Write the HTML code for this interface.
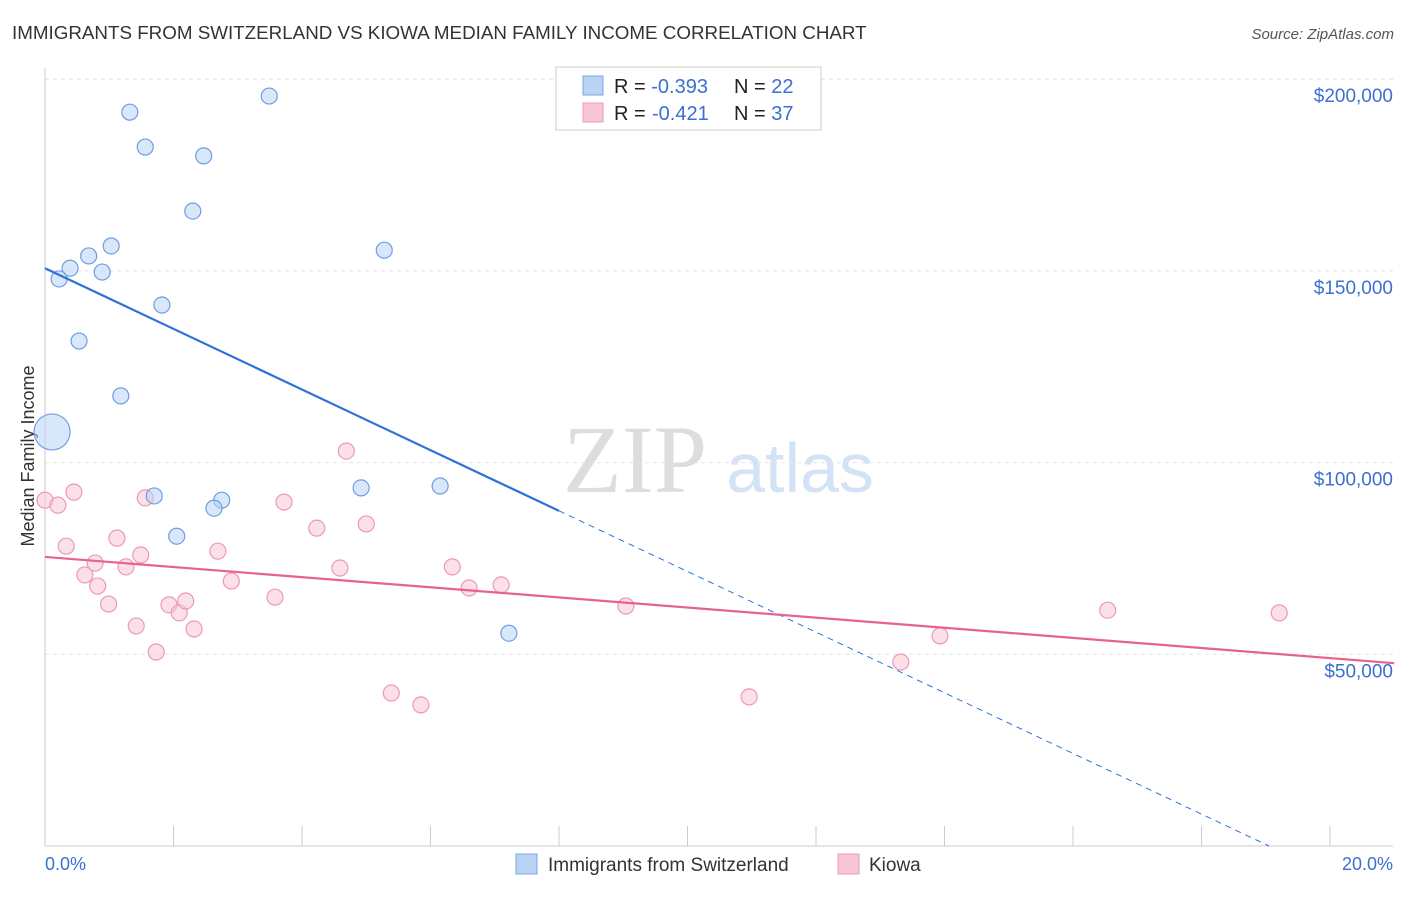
<!DOCTYPE html>
<html><head><meta charset="utf-8"><style>
body{margin:0;background:#fff;font-family:"Liberation Sans",sans-serif}
</style></head><body>
<svg id="c" width="1406" height="892" xmlns="http://www.w3.org/2000/svg" font-family="Liberation Sans, sans-serif">
<text x="12" y="39" font-size="18.8" fill="#333">IMMIGRANTS FROM SWITZERLAND VS KIOWA MEDIAN FAMILY INCOME CORRELATION CHART</text>
<text x="1394" y="39" font-size="15" fill="#555" font-style="italic" text-anchor="end">Source: ZipAtlas.com</text>
<text x="0" y="0" transform="translate(34,456) rotate(-90)" font-size="18" fill="#333" text-anchor="middle">Median Family Income</text>
<text x="635" y="492" font-size="96" fill="#ddd" font-family="Liberation Serif, serif" text-anchor="middle">ZIP</text>
<text x="800" y="492" font-size="70" fill="#d4e2f5" text-anchor="middle">atlas</text>
<g id="grid"></g><g id="marks"></g>
<g>
<rect x="556" y="67" width="265" height="63" fill="#fff" stroke="#ccc"/>
<rect x="583" y="76" width="20" height="19" fill="#b9d3f5" stroke="#7aa6e0"/>
<rect x="583" y="103" width="20" height="19" fill="#f9c6d4" stroke="#ee99b3"/>
<text x="614" y="93" font-size="20" fill="#222">R = <tspan fill="#3a70d0">-0.393</tspan><tspan x="734">N = </tspan><tspan fill="#3a70d0">22</tspan></text>
<text x="614" y="120" font-size="20" fill="#222">R = <tspan fill="#3a70d0" x="652">-0.421</tspan><tspan x="734">N = </tspan><tspan fill="#3a70d0">37</tspan></text>
</g>
<g>
<rect x="516" y="854" width="21" height="20" fill="#b9d3f5" stroke="#7aa6e0"/>
<text x="548" y="871" font-size="19" fill="#333">Immigrants from Switzerland</text>
<rect x="838" y="854" width="21" height="20" fill="#f9c6d4" stroke="#ee99b3"/>
<text x="869" y="871" font-size="19" fill="#333">Kiowa</text>
</g>
<text x="45" y="870" font-size="18" fill="#3a70d0">0.0%</text>
<text x="1393" y="870" font-size="18" fill="#3a70d0" text-anchor="end">20.0%</text>
</svg>
<script>
const yTicks=[50000,100000,150000,200000];
const yTickLabels=["$50,000","$100,000","$150,000","$200,000"];
const xTicks=[0,2,4,6,8,10,12,14,16,18,20];
const blueX=[1.32,3.49,1.56,2.47,2.30,1.03,0.68,0.39,0.22,0.89,5.28,1.82,0.53,1.18,0.11,1.70,2.75,2.63,2.05,4.92,6.15,7.22];
const blueY=[191400,195600,182300,180000,165600,156500,153900,150700,147900,149700,155400,141100,131700,117400,108000,91300,90200,88100,80800,93400,93900,55500];
const pinkX=[0,0.20,0.45,0.33,0.62,0.78,0.82,0.99,1.12,1.26,1.49,1.42,1.56,1.73,1.93,2.09,2.19,2.32,2.69,2.90,3.58,3.72,4.23,4.59,4.69,5.00,5.39,5.85,6.34,6.60,7.10,9.04,10.96,13.32,13.93,16.54,19.21];
const pinkY=[90200,88900,92300,78200,70700,73800,67800,63100,80300,72800,75900,57400,90800,50600,62900,60800,63900,56600,76900,69100,64900,89700,82900,72500,103000,84000,39900,36800,72800,67300,68100,62600,38900,48000,54800,61500,60800];
const blueTrend=[150700,-7910];
const pinkTrend=[75400,-1320];
const X=v=>45+v*64.25, Y=v=>846-v*191.7/50000;
const NS="http://www.w3.org/2000/svg";
function mk(t,a,p){const e=document.createElementNS(NS,t);for(const k in a)e.setAttribute(k,a[k]);p.appendChild(e);return e;}
const g=document.getElementById('grid'),m=document.getElementById('marks');
yTicks.forEach((v,i)=>{
 const l=mk('line',{x1:45,x2:1393,y1:Y(v),y2:Y(v),stroke:'#e4e4e4','stroke-dasharray':'4,4'},g);
 
 
 const t=mk('text',{x:1393,y:Y(v)+23,'font-size':19,fill:'#3a70d0','text-anchor':'end'},g);t.textContent=yTickLabels[i];
 
 
});
const topLine=mk('line',{x1:45,x2:1393,y1:79,y2:79,stroke:'#e4e4e4','stroke-dasharray':'4,4'},g);


mk('line',{x1:45,x2:45,y1:68,y2:846,stroke:'#ccc'},g);
const ax=mk('line',{x1:45,x2:1393,y1:846,y2:846,stroke:'#ccc'},g);


xTicks.forEach(v=>{const t=mk('line',{x1:X(v),x2:X(v),y1:826,y2:846,stroke:'#ccc'},g);
 
 });
function dot(x,y,r,f,s,n){const c=mk('circle',{cx:X(x),cy:Y(y),r:r,fill:f,'fill-opacity':0.55,stroke:s,'stroke-width':1.2},m);
 
 }
pinkX.forEach((x,i)=>dot(x,pinkY[i],8,'#f9c6d4','#ee99b3','kiowa-point'));
blueX.forEach((x,i)=>dot(x,blueY[i],i==14?18:8,'#b9d3f5','#6f9ee0','switzerland-point'));
const bx=-blueTrend[0]/blueTrend[1];
const b1=mk('line',{x1:X(0),y1:Y(blueTrend[0]),x2:X(8),y2:Y(blueTrend[0]+8*blueTrend[1]),stroke:'#2f72d6','stroke-width':2.2},m);


const b2=mk('line',{x1:X(8),y1:Y(blueTrend[0]+8*blueTrend[1]),x2:X(bx),y2:Y(0),stroke:'#2f72d6','stroke-width':1,'stroke-dasharray':'6,5'},m);


const p=mk('line',{x1:X(0),y1:Y(pinkTrend[0]),x2:X(21),y2:Y(pinkTrend[0]+21*pinkTrend[1]),stroke:'#e8628e','stroke-width':2.2},m);


</script>
</body></html>
